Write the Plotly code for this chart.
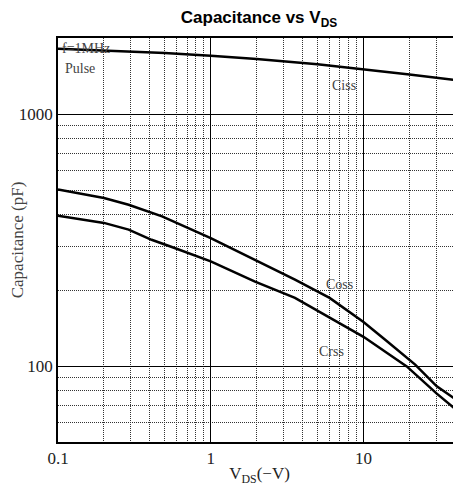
import plotly.graph_objects as go
import math

vds_ciss = [0.1, 0.2, 0.5, 1, 2, 5, 10, 20, 43.5]
ciss = [1820, 1790, 1750, 1710, 1660, 1580, 1510, 1440, 1360]

vds_coss = [0.1, 0.2, 0.29, 0.48, 1, 1.95, 3.56, 6.0, 10, 14, 21.8, 30.2, 43.5]
coss = [503, 466, 438, 394, 323, 265, 221, 187, 150, 127, 101.6, 83.3, 71.6]

vds_crss = [0.1, 0.2, 0.29, 0.41, 0.58, 1, 1.95, 3.56, 10, 19.2, 30.2, 43.5]
crss = [396, 371, 349, 318, 295, 261, 217, 187, 131, 100, 78, 64.9]

x_tickvals = [0.1, 1, 10]
x_ticktext = ["0.1", "1", "10"]
y_tickvals = [100, 1000]
y_ticktext = ["100", "1000"]

labels = [("Ciss", 5.9, 1300), ("Coss", 5.36, 211), ("Crss", 4.82, 115),
          ("f=1MHz", 0.1, 1823), ("Pulse", 0.105, 1514)]

serif = "Liberation Serif, DejaVu Serif, serif"

fig = go.Figure()
for xs, ys, name in [(vds_ciss, ciss, "Ciss"), (vds_coss, coss, "Coss"), (vds_crss, crss, "Crss")]:
    fig.add_trace(go.Scatter(x=xs, y=ys, mode="lines", name=name,
                             line=dict(color="black", width=2.5), showlegend=False))

for txt, lx, ly in labels:
    fig.add_annotation(x=math.log10(lx), y=math.log10(ly), text=txt, showarrow=False,
                       xanchor="left", yanchor="middle", xshift=2,
                       font=dict(family=serif, size=14, color="#444"))

axis_common = dict(showline=True, linecolor="black", linewidth=1.5, mirror=True,
                   showgrid=True, gridcolor="black", gridwidth=1,
                   ticks="", zeroline=False, automargin=False,
                   tickfont=dict(family=serif, size=17, color="#222"))

fig.update_xaxes(type="log", range=[-1, math.log10(43.5)],
                 tickvals=x_tickvals, ticktext=x_ticktext,
                 minor=dict(showgrid=True, gridcolor="#333", griddash="1px,1px", gridwidth=1,
                            tickvals=[v * m for v in [0.1, 1, 10] for m in range(2, 10) if v * m < 43.5]),
                 title=dict(text="V<sub>DS</sub>(−V)", font=dict(family=serif, size=17, color="#222"),
                            standoff=0),
                 **axis_common)
fig.update_yaxes(type="log", range=[1.7, 3.303],
                 tickvals=y_tickvals, ticktext=y_ticktext,
                 minor=dict(showgrid=True, gridcolor="#333", griddash="1px,1px", gridwidth=1,
                            tickvals=[v * m for v in [10, 100] for m in range(2, 10) if v * m >= 50]),
                 title=dict(text="Capacitance (pF)", font=dict(family=serif, size=17, color="#444"),
                            standoff=6),
                 **axis_common)

fig.update_layout(
    width=453, height=478,
    margin=dict(l=50, r=0, t=30, b=44, autoexpand=False),
    paper_bgcolor="white", plot_bgcolor="white",
    title=dict(text="<b>Capacitance vs V<sub>DS</sub></b>", x=0.554, xanchor="center",
               y=1 - 9 / 478, yanchor="middle", yref="container",
               font=dict(family="Liberation Sans, Arial, sans-serif", size=17, color="black")),
)

fig.write_html("out.html")
